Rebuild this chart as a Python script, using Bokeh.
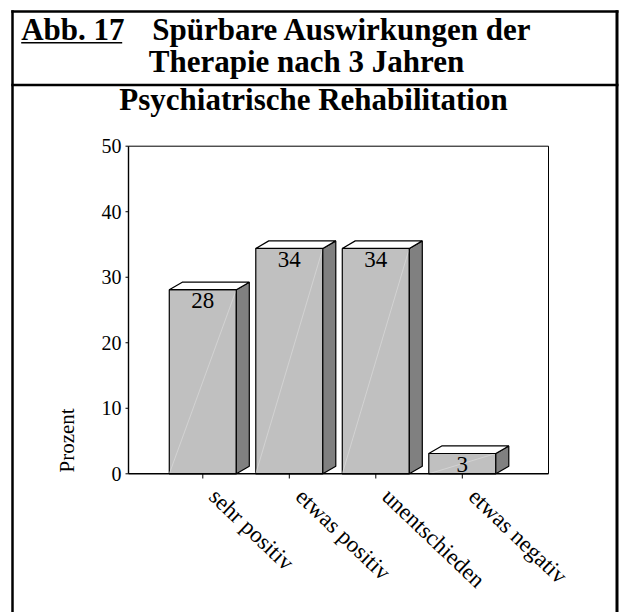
import math
from bokeh.plotting import figure
from bokeh.models import Range1d, ColumnDataSource
from bokeh.core.properties import value
from bokeh.embed import file_html
from bokeh.resources import INLINE

# ---- data ----
categories = ["sehr positiv", "etwas positiv", "unentschieden", "etwas negativ"]
values = [28.1, 34.4, 34.4, 3.1]
value_labels = [f"{v:.0f}" for v in values]
y_ticks = [0, 10, 20, 30, 40, 50]
y_tick_labels = [str(t) for t in y_ticks]
title_tag = "Abb. 17"
title_line1 = "Spürbare Auswirkungen der"
title_line2 = "Therapie nach 3 Jahren"
subtitle = "Psychiatrische Rehabilitation"
y_label = "Prozent"

FONT = value("Liberation Serif")
W, H = 623, 612

# scale: category spacing and value scale in pixels (frame covers the whole canvas)
CAT0_PX, PX_PER_CAT = 202.3, 86.5
ZERO_PY, PX_PER_UNIT = 473.3, 6.552
def X(px):
    return (px - CAT0_PX) / PX_PER_CAT
def Y(py):
    return (ZERO_PY - py) / PX_PER_UNIT

p = figure(width=W, height=H, output_backend="svg", toolbar_location=None, title=None,
           x_range=Range1d(X(0), X(W)), y_range=Range1d(Y(H), Y(0)),
           x_axis_location=None, y_axis_location=None,
           min_border=0, min_border_left=0, min_border_right=0,
           min_border_top=0, min_border_bottom=0)
p.background_fill_color = "white"
p.border_fill_color = "white"
p.outline_line_color = None
p.grid.visible = False

x_lo, x_hi = X(128), X(548)   # plot area
y_lo, y_hi = y_ticks[0], y_ticks[-1]

# ---- 3D bars ----
bw = 0.775   # bar width (category units)
dx = 0.15    # depth offset x
dy = 1.15    # depth offset y
xs = list(range(len(categories)))
left = [x - bw / 2 for x in xs]
right = [x + bw / 2 for x in xs]
src = ColumnDataSource(dict(x=xs, left=left, right=right, top=values, lab=value_labels,
                            zero=[0] * len(xs)))
p.quad(left="left", right="right", bottom="zero", top="top", source=src,
       fill_color="#c0c0c0", line_color="black", line_width=1.2)
p.segment(x0="left", y0="zero", x1="right", y1="top", source=src,
          line_color="#dadada", line_width=0.8, line_alpha=0.9)
side_xs = [[r, r + dx, r + dx, r] for r in right]
side_ys = [[0, dy, v + dy, v] for v in values]
p.patches(side_xs, side_ys, fill_color="#808080", line_color="black", line_width=1.2)
top_xs = [[l, l + dx, r + dx, r] for l, r in zip(left, right)]
top_ys = [[v, v + dy, v + dy, v] for v in values]
p.patches(top_xs, top_ys, fill_color="white", line_color="black", line_width=1.2)
p.text(x="x", y="top", text="lab", source=src, text_align="center", text_baseline="top",
       y_offset=3.5, text_font=FONT, text_font_size="23px", text_color="black")

# ---- axes ----
p.segment(x0=[x_lo, x_lo], y0=[y_lo, y_lo], x1=[x_lo, x_hi], y1=[y_hi, y_lo],
          line_color="black", line_width=1.4)
p.segment(x0=[x_lo, x_hi], y0=[y_hi, y_lo], x1=[x_hi, x_hi], y1=[y_hi, y_hi],
          line_color="black", line_width=1)
# y ticks + labels
p.segment(x0=[X(125)] * len(y_ticks), y0=y_ticks, x1=[x_lo] * len(y_ticks), y1=y_ticks,
          line_color="black", line_width=1)
p.text(x=[x_lo] * len(y_ticks), y=y_ticks, text=y_tick_labels, x_offset=-7,
       text_align="right", text_baseline="middle", text_font=FONT,
       text_font_size="20px", text_color="black")
# x ticks + labels
p.segment(x0=xs, y0=[0] * len(xs), x1=xs, y1=[Y(478)] * len(xs),
          line_color="black", line_width=1)
p.text(x=xs, y=[0] * len(xs), text=categories, x_offset=10, y_offset=19, angle=-0.76,
       text_align="left", text_baseline="middle", text_font=FONT,
       text_font_size="23px", text_color="black")
# y axis title
p.text(x=[X(66.5)], y=[Y(472)], text=[y_label], angle=math.pi / 2,
       text_align="left", text_baseline="middle", text_font=FONT,
       text_font_size="21px", text_color="black")

# ---- header and frame decorations ----
def seg(x0, y0, x1, y1, w):
    p.segment(x0=[X(x0)], y0=[Y(y0)], x1=[X(x1)], y1=[Y(y1)], line_color="black", line_width=w)

seg(10.8, 11, 618, 11, 2.5)          # top border
seg(12, 9.8, 12, 640, 2.5)           # left border
seg(616.5, 9.8, 616.5, 640, 3)       # right border
seg(10.8, 84.5, 618, 84.5, 2.5)      # separator under the title
seg(20.7, 42.3, 121.7, 42.3, 1.5)    # underline of "Abb. 17"

def htext(txt, x, y_base, size_px, align="left"):
    p.text(x=[X(x)], y=[Y(y_base - 0.34 * size_px)], text=[txt], text_align=align,
           text_baseline="middle", text_font=FONT, text_font_style="bold",
           text_font_size=f"{size_px}px", text_color="black")

htext(title_tag, 20.7, 39.3, 31)
htext(title_line1, 151.7, 39.3, 31)
htext(title_line2, 306, 71.7, 31, align="center")
htext(subtitle, 313, 110, 31, align="center")

open("out.html", "w").write(file_html(p, INLINE))
